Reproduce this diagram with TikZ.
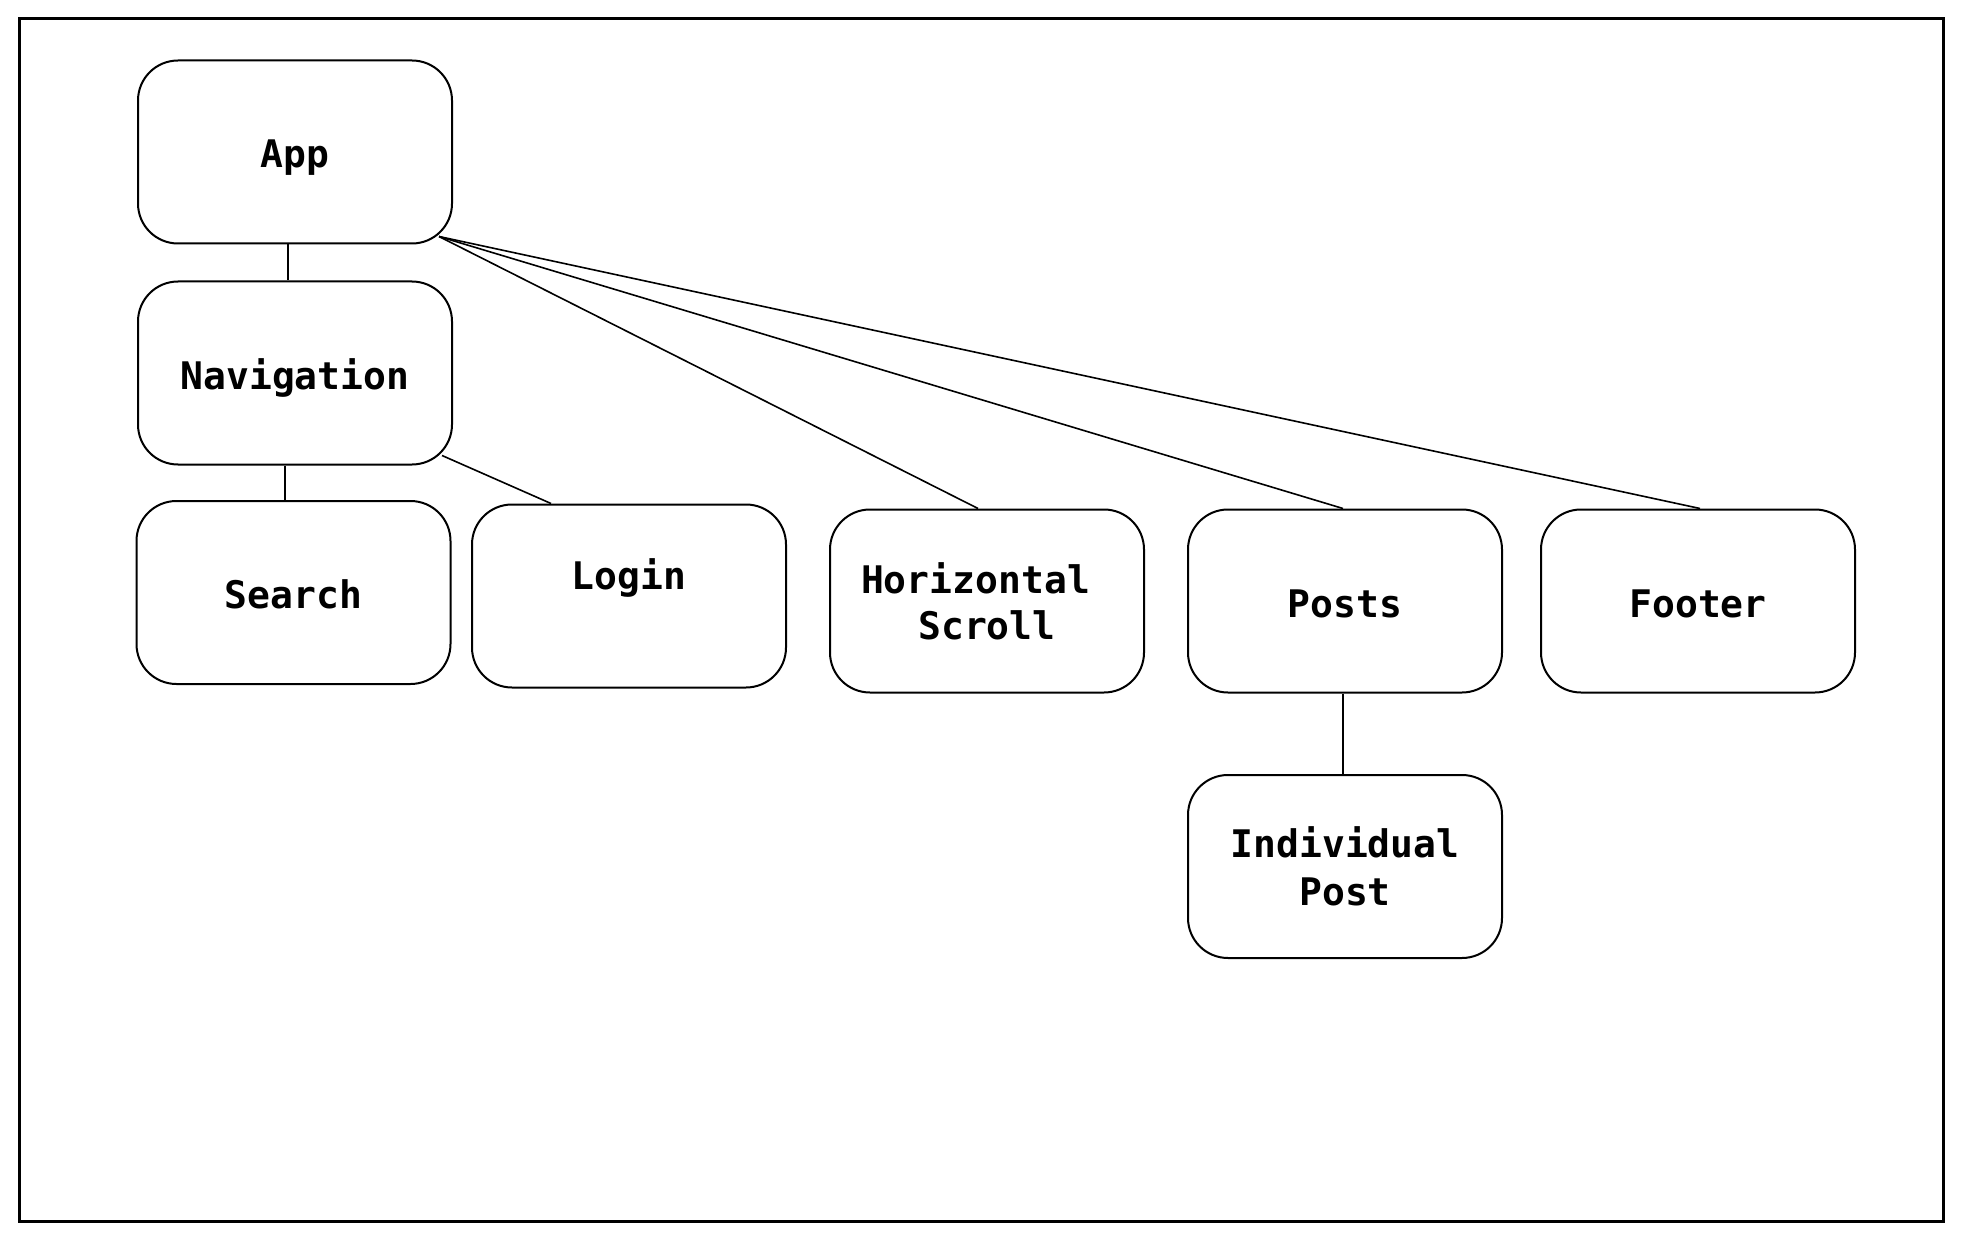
\documentclass[tikz,border=0pt]{standalone}
\usepackage{fontspec}
\setmonofont{DejaVu Sans Mono}
\usetikzlibrary{calc}
\tikzset{
  box/.style={draw=black, line width=2pt, rounded corners=40pt, minimum width=314pt, minimum height=183pt, inner sep=0pt, align=center, text height=32pt, text depth=0pt, font=\fontsize{38}{46}\ttfamily\bfseries},
  txt/.style={inner sep=0pt, align=center, text height=32pt, text depth=0pt, font=\fontsize{38}{46}\ttfamily\bfseries},
  natural/.style={text height=, text depth=},
  link/.style={draw=black, line width=1.6pt},
}
\begin{document}
\begin{tikzpicture}[x=1pt,y=-1pt]
\useasboundingbox (0,0) rectangle (1963,1241);
\fill[white] (0,0) rectangle (1963,1241);
\draw[line width=3pt] (19,19) rectangle (1943,1221);

\node[box] (app) at (295,152) {App};
\node[box] (nav) at (295,373) {Navigation};
\node[box] (search) at (293.5,592.5) {Search};
\node[box, label={[txt, yshift=23pt]center:Login}] (login) at (629,596) {};
\node[box, label={[txt, natural, xshift=-11.5pt, yshift=0pt]center:{Horizontal\\\ Scroll}}] (hs) at (987,601) {};
\node[box] (posts) at (1345,601) {Posts};
\node[box] (footer) at (1698,601) {Footer};
\node[box, natural, font=\fontsize{38}{48}\ttfamily\bfseries] (ip) at (1345,866.5) {Individual\\Post};

\draw[link] ([xshift=-7pt]app.south) -- ([xshift=-7pt]nav.north);
\draw[link] ([xshift=-10pt]nav.south) -- ([xshift=-8.5pt]search.north);
\draw[link] ($(nav.south east)+(-11,-10)$) -- ([xshift=-78pt]login.north);
\coordinate (appc) at ($(app.south east)+(-14,-8)$);
\draw[link] (appc) -- ([xshift=-9pt]hs.north);
\draw[link] (appc) -- ([xshift=-2pt]posts.north);
\draw[link] (appc) -- ([xshift=2pt]footer.north);
\draw[link] ([xshift=-2pt]posts.south) -- ([xshift=-2pt]ip.north);
\end{tikzpicture}
\end{document}
